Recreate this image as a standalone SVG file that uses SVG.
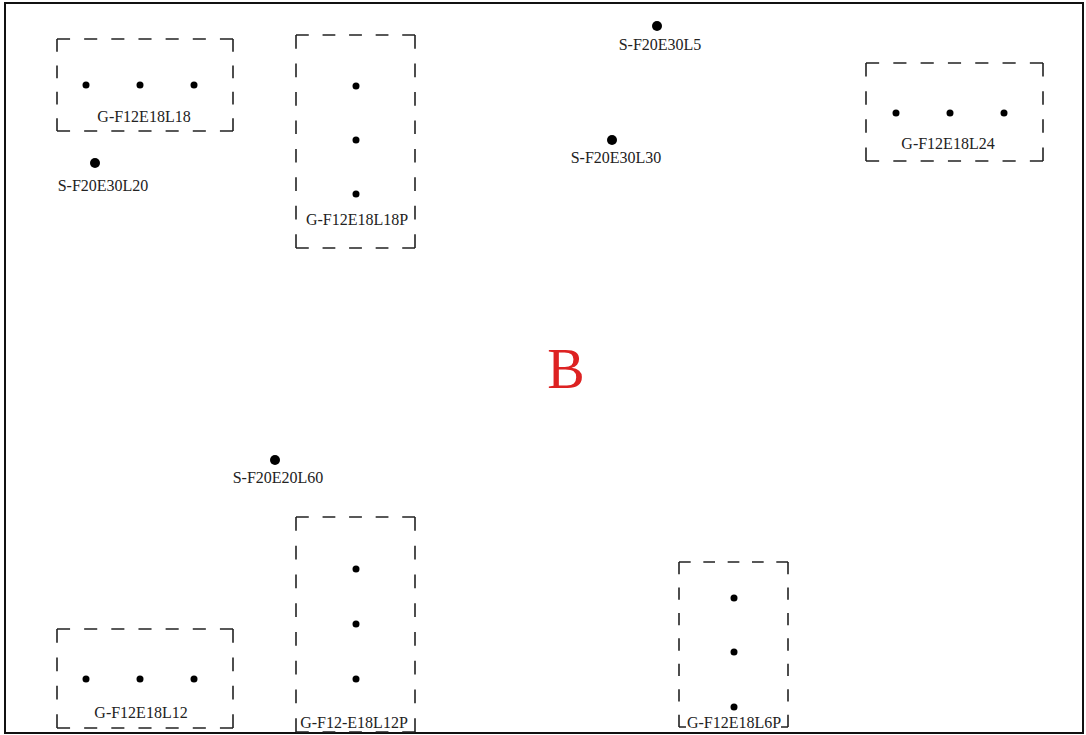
<svg xmlns="http://www.w3.org/2000/svg" width="1086" height="735" viewBox="0 0 1086 735">
<style>
.frame{fill:none;stroke:#111;stroke-width:2}
.d{stroke:#222;stroke-width:1.6;stroke-dasharray:13 14;fill:none}
.s{stroke:#222;stroke-width:1.6;fill:none}
.pt{fill:#000}
.lbl{font-family:"Liberation Serif","Times New Roman",serif;font-size:16px;fill:#222;text-anchor:middle}
.big{font-family:"Liberation Serif","Times New Roman",serif;font-size:56px;fill:#dd2222;text-anchor:middle}
</style>
<rect width="1086" height="735" fill="#fff"/>
<rect class="frame" x="5" y="3" width="1078" height="730"/>

<g id="G-F12E18L18">
<line class="d" x1="57" y1="39" x2="233" y2="39" pathLength="175"/>
<line class="d" x1="57" y1="131" x2="233" y2="131" pathLength="175"/>
<line class="d" x1="57" y1="39" x2="57" y2="131" pathLength="94"/>
<line class="d" x1="233" y1="39" x2="233" y2="131" pathLength="94"/>
<circle class="pt" cx="86" cy="85" r="3.5"/><circle class="pt" cx="140" cy="85" r="3.5"/><circle class="pt" cx="194" cy="85" r="3.5"/>
<text class="lbl" x="144" y="122">G-F12E18L18</text>
</g>

<g id="S-F20E30L20">
<circle class="pt" cx="95" cy="163" r="5"/>
<text class="lbl" x="103" y="191">S-F20E30L20</text>
</g>

<g id="G-F12E18L18P">
<line class="d" x1="296" y1="35" x2="415" y2="35" pathLength="121"/>
<line class="d" x1="296" y1="248" x2="415" y2="248" pathLength="121"/>
<line class="d" x1="296" y1="35" x2="296" y2="248" pathLength="202"/>
<line class="d" x1="415" y1="35" x2="415" y2="248" pathLength="202"/>
<circle class="pt" cx="356" cy="86" r="3.5"/><circle class="pt" cx="356" cy="140" r="3.5"/><circle class="pt" cx="356" cy="194" r="3.5"/>
<text class="lbl" x="357" y="225">G-F12E18L18P</text>
</g>

<g id="S-F20E30L5">
<circle class="pt" cx="657" cy="26" r="5"/>
<text class="lbl" x="660" y="50">S-F20E30L5</text>
</g>

<g id="S-F20E30L30">
<circle class="pt" cx="612" cy="140" r="5"/>
<text class="lbl" x="616" y="163">S-F20E30L30</text>
</g>

<g id="G-F12E18L24">
<line class="d" x1="866" y1="63" x2="1043" y2="63" pathLength="175"/>
<line class="d" x1="866" y1="161" x2="1043" y2="161" pathLength="175"/>
<line class="d" x1="866" y1="63" x2="866" y2="161" pathLength="94"/>
<line class="d" x1="1043" y1="63" x2="1043" y2="161" pathLength="94"/>
<circle class="pt" cx="896" cy="113" r="3.5"/><circle class="pt" cx="950" cy="113" r="3.5"/><circle class="pt" cx="1004" cy="113" r="3.5"/>
<text class="lbl" x="948" y="149">G-F12E18L24</text>
</g>

<g id="B">
<text class="big" x="566" y="388">B</text>
</g>

<g id="S-F20E20L60">
<circle class="pt" cx="275" cy="460" r="5"/>
<text class="lbl" x="278" y="483">S-F20E20L60</text>
</g>

<g id="G-F12E18L12">
<line class="d" x1="57" y1="629" x2="233" y2="629" pathLength="175"/>
<line class="d" x1="57" y1="728" x2="233" y2="728" pathLength="175"/>
<line class="d" x1="57" y1="629" x2="57" y2="728" pathLength="94"/>
<line class="d" x1="233" y1="629" x2="233" y2="728" pathLength="94"/>
<circle class="pt" cx="86" cy="679" r="3.5"/><circle class="pt" cx="140" cy="679" r="3.5"/><circle class="pt" cx="194" cy="679" r="3.5"/>
<text class="lbl" x="141" y="718">G-F12E18L12</text>
</g>

<g id="G-F12-E18L12P">
<line class="d" x1="296" y1="517" x2="415" y2="517" pathLength="121"/>
<line class="d" x1="296" y1="732" x2="415" y2="732" pathLength="121"/>
<line class="d" x1="296" y1="517" x2="296" y2="732" pathLength="202"/>
<line class="d" x1="415" y1="517" x2="415" y2="732" pathLength="202"/>
<circle class="pt" cx="356" cy="569" r="3.5"/><circle class="pt" cx="356" cy="624" r="3.5"/><circle class="pt" cx="356" cy="679" r="3.5"/>
<text class="lbl" x="354" y="728">G-F12-E18L12P</text>
</g>

<g id="G-F12E18L6P">
<line class="d" x1="679" y1="562" x2="788" y2="562" pathLength="121"/>
<line class="d" x1="679" y1="562" x2="679" y2="727" pathLength="175"/>
<line class="d" x1="788" y1="562" x2="788" y2="727" pathLength="175"/>
<path class="s" d="M679 727H686M781 727H788"/>
<circle class="pt" cx="734" cy="598" r="3.5"/><circle class="pt" cx="734" cy="652" r="3.5"/><circle class="pt" cx="734" cy="707" r="3.5"/>
<text class="lbl" x="734" y="728">G-F12E18L6P</text>
</g>

<g id="connectors"></g>
</svg>
